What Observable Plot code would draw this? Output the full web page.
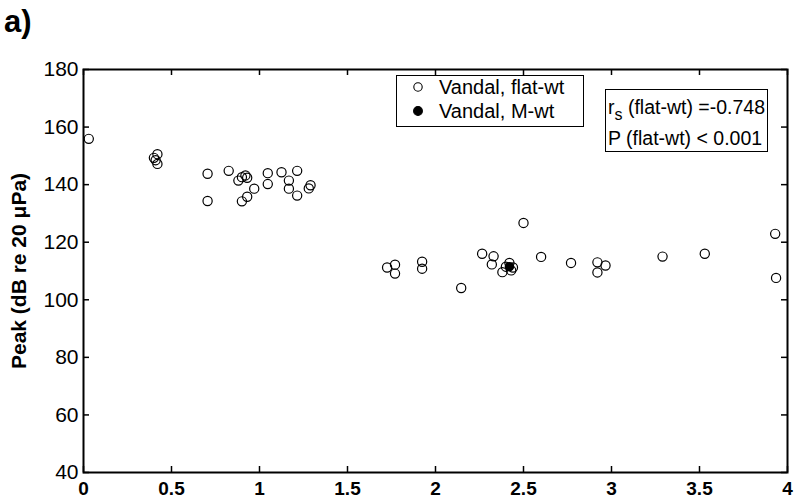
<!DOCTYPE html>
<html><head><meta charset="utf-8">
<script src="https://cdn.jsdelivr.net/npm/d3@7"></script>
<script src="https://cdn.jsdelivr.net/npm/@observablehq/plot@0.6"></script>
<style>
body{margin:0;background:#fff;font-family:"Liberation Sans",Arial,sans-serif;}
#wrap{position:relative;width:797px;height:504px;overflow:hidden;}
#tag{position:absolute;left:4px;top:4px;font-size:31px;font-weight:bold;color:#000;line-height:36px;}
#legend{position:absolute;left:396px;top:75px;width:186px;height:50px;border:1px solid #000;background:#fff;font-size:20px;}
#legend .row{position:absolute;left:0;height:22px;line-height:22px;white-space:nowrap;}
#legend svg{position:absolute;left:15px;top:5px;}
#legend span{position:absolute;left:42px;top:0;}
#stats{position:absolute;left:605px;top:89px;width:161px;height:61px;border:1px solid #000;background:#fff;font-size:19.5px;}
#stats div{position:absolute;left:2px;white-space:nowrap;line-height:22px;}
</style></head><body><div id="wrap"></div>
<script>
// Vandal, flat-wt (x, peak dB re 20 µPa)
const flatX = [0.03,0.40,0.42,0.42,0.41,0.705,0.705,0.825,0.88,0.90,0.92,0.93,0.97,0.93,0.90,1.047,1.047,1.125,1.214,1.167,1.167,1.214,1.29,1.28,
  1.725,1.77,1.77,1.924,1.924,2.146,2.265,2.33,2.32,2.38,2.40,2.42,2.44,2.43,2.50,2.60,2.77,2.92,2.92,2.966,3.29,3.53,3.93,3.935];
const flatY = [155.9,149.3,150.6,147.2,148.5,143.8,134.3,144.8,141.4,142.6,143.2,142.4,138.6,135.8,134.2,144.0,140.2,144.3,144.8,141.4,138.6,136.2,139.8,138.7,
  111.2,112.2,109.1,113.2,110.8,104.1,116.0,115.1,112.3,109.6,111.5,112.8,111.2,110.2,126.7,114.9,112.8,113.0,109.5,111.9,115.0,116.0,122.9,107.6];
// Vandal, M-wt
const mwtX = [2.42];
const mwtY = [111.5];
const xTicks = [0,0.5,1,1.5,2,2.5,3,3.5,4];
const yTicks = [40,60,80,100,120,140,160,180];
const yLabel = "Peak (dB re 20 μPa)";
const legendLabels = ["Vandal, flat-wt","Vandal, M-wt"];
const statsLines = ["(flat-wt) =-0.748","P (flat-wt) < 0.001"];

const flat = flatX.map((x,i)=>({x, y: flatY[i]}));
const mwt = mwtX.map((x,i)=>({x, y: mwtY[i]}));

const W = 797, H = 504, mL = 83, mR = 10, mT = 69, mB = 32;
const pw = W - mL - mR, ph = H - mT - mB, tk = 6;

const chart = Plot.plot({
  width: W, height: H,
  marginLeft: mL, marginRight: mR, marginTop: mT, marginBottom: mB,
  style: {fontFamily: '"Liberation Sans", Arial, sans-serif', fontSize: "18px", color: "#000", background: "#fff"},
  x: {domain: [0,4], ticks: xTicks},
  y: {domain: [40,180], ticks: yTicks},
  marks: [
    Plot.axisX(xTicks, {tickSize: 0, tickPadding: 9, tickFormat: d => String(d), label: null, fontWeight: "bold", fontSize: 19}),
    Plot.axisY(yTicks, {tickSize: 0, tickPadding: 5, tickFormat: d => String(d), label: null, fontSize: 21}),
    Plot.tickX(xTicks, {x: d => d, insetTop: ph - tk, stroke: "#000", strokeWidth: 1.5}),
    Plot.tickX(xTicks, {x: d => d, insetBottom: ph - tk, stroke: "#000", strokeWidth: 1.5}),
    Plot.tickY(yTicks, {y: d => d, insetRight: pw - tk, stroke: "#000", strokeWidth: 1.5}),
    Plot.tickY(yTicks, {y: d => d, insetLeft: pw - tk, stroke: "#000", strokeWidth: 1.5}),
    Plot.frame({stroke: "#000", strokeWidth: 2}),
    Plot.dot(flat, {x: "x", y: "y", r: 4.6, stroke: "#000", strokeWidth: 1.2, fill: "none"}),
    Plot.dot(mwt, {x: "x", y: "y", r: 4, fill: "#000", stroke: "#000"}),
    Plot.text([yLabel], {text: d => d, frameAnchor: "left", textAnchor: "middle", dx: -64, rotate: -90, fontWeight: "bold", fontSize: 21})
  ]
});
const wrap = document.getElementById("wrap");
wrap.appendChild(chart);

const tag = document.createElement("div"); tag.id = "tag"; tag.textContent = "a)"; wrap.appendChild(tag);

const lg = document.createElement("div"); lg.id = "legend";
legendLabels.forEach((t,i) => {
  const row = document.createElement("div"); row.className = "row"; row.style.top = (0 + i*24) + "px"; row.style.width = "100%";
  const filled = i === 1;
  row.innerHTML = `<svg width="12" height="12"><circle cx="6" cy="6" r="${filled?4.4:4.2}" fill="${filled?'#000':'none'}" stroke="#000" stroke-width="1.1"/></svg><span>${t}</span>`;
  lg.appendChild(row);
});
wrap.appendChild(lg);

const st = document.createElement("div"); st.id = "stats";
st.innerHTML = `<div style="top:6px">r<sub style="font-size:16px;vertical-align:-6px">s</sub> ${statsLines[0]}</div><div style="top:37px">${statsLines[1]}</div>`;
wrap.appendChild(st);
</script></body></html>
